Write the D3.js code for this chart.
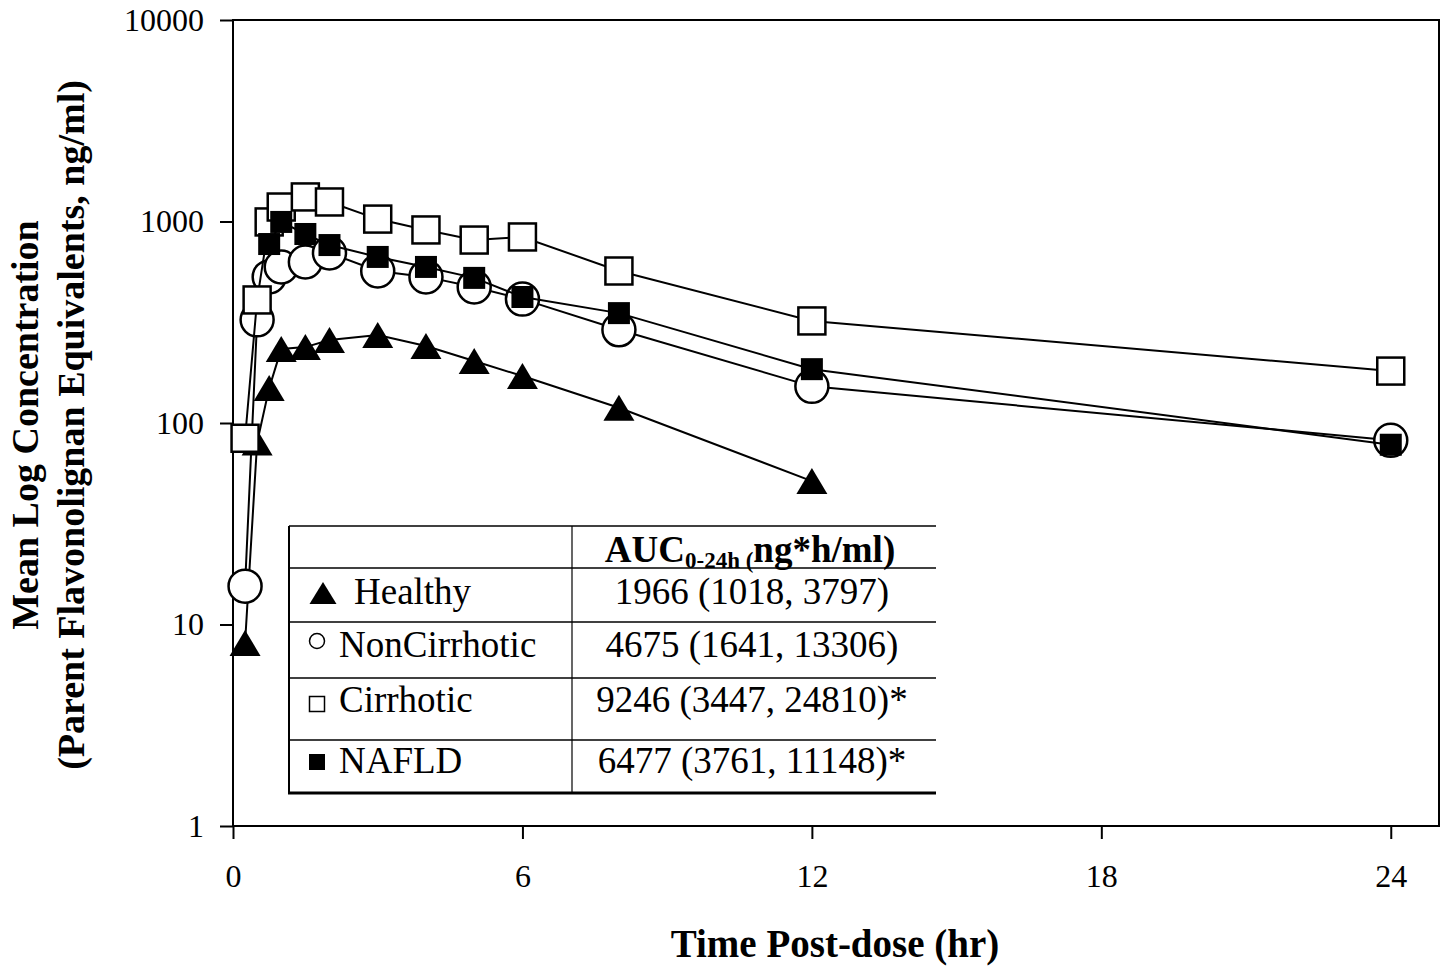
<!DOCTYPE html>
<html>
<head>
<meta charset="utf-8">
<script src="https://cdn.jsdelivr.net/npm/d3@7"></script>
<style>
  body { margin: 0; background: #fff; }
  text { font-family: "Liberation Serif", "Times New Roman", serif; fill: #000; }
</style>
</head>
<body>
<svg id="chart" width="1445" height="969"></svg>
<script>
// ------------------------------------------------------------
// Data
// ------------------------------------------------------------
const times = [0.25, 0.5, 0.75, 1, 1.5, 2, 3, 4, 5, 6, 8, 12, 24];
const healthy = [8.1, 80, 149, 233, 238, 258, 273, 241, 203, 171, 119, 51.5, null];
const nonCirrhotic = [15.5, 325, 531, 595, 630, 698, 568, 531, 473, 412, 290, 152, 82];
const cirrhotic = [84, 408, 995, 1180, 1324, 1250, 1028, 908, 809, 838, 568, 321, 181];
const nafld = [null, null, 773, 995, 867, 764, 667, 595, 525, 422, 351, 185, 78];

const xTicks = [0, 6, 12, 18, 24];
const yTicks = [1, 10, 100, 1000, 10000];

const groupNames = ["Healthy", "NonCirrhotic", "Cirrhotic", "NAFLD"];
const aucValues = ["1966 (1018, 3797)", "4675 (1641, 13306)", "9246 (3447, 24810)*", "6477 (3761, 11148)*"];

// ------------------------------------------------------------
// Chart setup
// ------------------------------------------------------------
const svg = d3.select("#chart");
const plotL = 233, plotR = 1439, plotT = 20, plotB = 826;

const x = d3.scaleLinear().domain([0, 25]).range([plotL, plotR]);
const y = d3.scaleLog().domain([1, 10000]).range([plotB, plotT]);

// marker drawers: triangle / circle / open square / filled square
function triangle(sel, w, h) {
  sel.append("path").attr("d", `M0,${-h / 2}L${w / 2},${h / 2}L${-w / 2},${h / 2}Z`)
    .attr("fill", "#000");
}
function circle(sel, r) {
  sel.append("circle").attr("r", r).attr("fill", "#fff")
    .attr("stroke", "#000").attr("stroke-width", 2.5);
}
function square(sel, s, filled) {
  sel.append("rect").attr("x", -s / 2).attr("y", -s / 2).attr("width", s).attr("height", s)
    .attr("fill", filled ? "#000" : "#fff")
    .attr("stroke", "#000").attr("stroke-width", filled ? 0 : 2.5);
}

const series = [
  { values: healthy, draw: g => triangle(g, 31, 26) },
  { values: nonCirrhotic, draw: g => circle(g, 16.5) },
  { values: cirrhotic, draw: g => square(g, 27, false) },
  { values: nafld, draw: g => square(g, 22, true) }
];

// Frame
svg.append("rect")
  .attr("x", plotL).attr("y", plotT)
  .attr("width", plotR - plotL).attr("height", plotB - plotT)
  .attr("fill", "none").attr("stroke", "#000").attr("stroke-width", 2);

// Axes
const yAxis = svg.append("g")
  .attr("transform", `translate(${plotL},0)`)
  .call(d3.axisLeft(y).tickValues(yTicks).tickFormat(d3.format("d")).tickSize(13).tickPadding(16));
const xAxis = svg.append("g")
  .attr("transform", `translate(0,${plotB})`)
  .call(d3.axisBottom(x).tickValues(xTicks).tickSize(13).tickPadding(25));
[yAxis, xAxis].forEach(a => {
  a.select(".domain").remove();
  a.selectAll("line").attr("stroke", "#000").attr("stroke-width", 2);
  a.selectAll("text").attr("font-family", "Liberation Serif").attr("font-size", 32).attr("fill", "#000");
});

// Series: line then markers, one group at a time
const line = d3.line()
  .defined(d => d.v != null)
  .x(d => x(d.t))
  .y(d => y(d.v));

series.forEach(s => {
  const pts = times.map((t, i) => ({ t, v: s.values[i] }));
  svg.append("path")
    .datum(pts)
    .attr("d", line)
    .attr("fill", "none")
    .attr("stroke", "#000")
    .attr("stroke-width", 2);
  pts.filter(p => p.v != null).forEach(p => {
    const g = svg.append("g").attr("transform", `translate(${x(p.t)},${y(p.v)})`);
    s.draw(g);
  });
});

// Axis titles
svg.append("text")
  .attr("transform", "translate(38,425) rotate(-90)")
  .attr("text-anchor", "middle")
  .attr("font-size", 38).attr("font-weight", "bold")
  .text("Mean Log Concentration");
svg.append("text")
  .attr("transform", "translate(84,425) rotate(-90)")
  .attr("text-anchor", "middle")
  .attr("font-size", 38).attr("font-weight", "bold")
  .text("(Parent Flavonolignan Equivalents, ng/ml)");
svg.append("text")
  .attr("x", 835).attr("y", 957)
  .attr("text-anchor", "middle")
  .attr("font-size", 39).attr("font-weight", "bold")
  .text("Time Post-dose (hr)");

// ------------------------------------------------------------
// AUC table inside the plot
// ------------------------------------------------------------
const tbl = svg.append("g");
const tL = 289, tD = 572, tR = 936;
const rowLines = [526, 568, 622, 678, 740];
const baselines = [604, 657, 712, 773];

tbl.append("rect").attr("x", tL).attr("y", 526).attr("width", tR - tL).attr("height", 793 - 526)
  .attr("fill", "#fff");
rowLines.forEach(yy => {
  tbl.append("line").attr("x1", tL).attr("x2", tR).attr("y1", yy).attr("y2", yy)
    .attr("stroke", "#000").attr("stroke-width", 1.5);
});
tbl.append("line").attr("x1", tL - 1).attr("x2", tR).attr("y1", 793).attr("y2", 793)
  .attr("stroke", "#000").attr("stroke-width", 3);
tbl.append("line").attr("x1", tL).attr("x2", tL).attr("y1", 526).attr("y2", 793)
  .attr("stroke", "#000").attr("stroke-width", 2);
tbl.append("line").attr("x1", tD).attr("x2", tD).attr("y1", 526).attr("y2", 793)
  .attr("stroke", "#000").attr("stroke-width", 1.2);

const header = tbl.append("text")
  .attr("x", 750).attr("y", 562)
  .attr("text-anchor", "middle")
  .attr("font-size", 37).attr("font-weight", "bold");
header.append("tspan").text("AUC");
header.append("tspan").attr("font-size", 23).attr("dy", 6).text("0-24h (");
header.append("tspan").attr("dy", -6).text("ng*h/ml)");

const legendMarks = [
  g => triangle(g, 27, 22),
  g => g.append("circle").attr("r", 7.5).attr("fill", "#fff").attr("stroke", "#000").attr("stroke-width", 1.5),
  g => g.append("rect").attr("x", -7.5).attr("y", -7.5).attr("width", 15).attr("height", 15)
        .attr("fill", "#fff").attr("stroke", "#000").attr("stroke-width", 1.5),
  g => g.append("rect").attr("x", -8).attr("y", -8).attr("width", 16).attr("height", 16).attr("fill", "#000")
];
const markY = [593, 641, 704, 762];
const nameX = [354, 339, 339, 339];

groupNames.forEach((name, i) => {
  const mx = i === 0 ? 323 : 317;
  legendMarks[i](tbl.append("g").attr("transform", `translate(${mx},${markY[i]})`));
  tbl.append("text").attr("x", nameX[i]).attr("y", baselines[i])
    .attr("font-size", 37).text(name);
  tbl.append("text").attr("x", 752).attr("y", baselines[i])
    .attr("text-anchor", "middle").attr("font-size", 37).text(aucValues[i]);
});
</script>
</body>
</html>
